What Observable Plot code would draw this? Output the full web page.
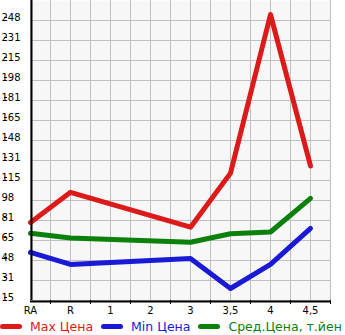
<!DOCTYPE html>
<html>
<head>
<meta charset="utf-8">
<script src="https://cdn.jsdelivr.net/npm/d3@7"></script>
<script src="https://cdn.jsdelivr.net/npm/@observablehq/plot@0.6"></script>
<style>
  html, body { margin: 0; padding: 0; background: #fff; }
  #chart svg { display: block; }
  .legend { display: flex; align-items: center; height: 17px; font: 12.5px "DejaVu Sans", sans-serif; white-space: nowrap; }
  .sw { display: inline-block; width: 22px; height: 5px; border-radius: 3px; margin-right: 8px; }
  .item { display: flex; align-items: center; margin-right: 8px; }
</style>
</head>
<body>
<div id="chart"></div>
<script>
const categories = ["RA", "R", "1", "2", "3", "3,5", "4", "4,5"];
const maxPrice = [80, 105, null, null, 76, 121, 253, 127];
const minPrice = [55, 45, null, null, 50, 25, 45, 75];
const avgPrice = [71, 67, null, null, 63.5, 70.5, 72, 100];
const yTickLabels = ["15", "31", "48", "65", "81", "98", "115", "131", "148", "165", "181", "198", "215", "231", "248"];
const seriesNames = ["Max Цена", "Min Цена", "Сред.Цена, т.йен"];
const seriesColors = ["#dd1a1a", "#1a1ad6", "#0b800b"];

const yStep = (248 - 15) / 14;
const yTicks = yTickLabels.map((_, i) => 15 + i * yStep);
const yMax = 15 + yStep * 15;

const rows = [];
[maxPrice, minPrice, avgPrice].forEach((arr, s) => {
  arr.forEach((v, i) => { if (v != null) rows.push({ i, v, s: seriesNames[s] }); });
});

const xGrid = d3.range(0, 16).map(k => k / 2);
const xMid = d3.range(0, 8).map(k => k + 0.5);

const chart = Plot.plot({
  width: 345,
  height: 318,
  marginTop: 0,
  marginBottom: 18,
  marginLeft: 30,
  marginRight: 15,
  x: { type: "linear", domain: [0, 7.5], range: [30, 330], label: null },
  y: { type: "linear", domain: [15, yMax], range: [300, 0], label: null },
  color: { domain: seriesNames, range: seriesColors },
  style: { fontFamily: "DejaVu Sans, sans-serif", fontSize: "10px", color: "#000", background: "#fff" },
  marks: [
    Plot.frame({ fill: "#f7f7f7", stroke: null }),
    Plot.gridX(xGrid, { stroke: "#c0c0c0", strokeOpacity: 1, strokeWidth: 1 }),
    Plot.gridY(yTicks, { stroke: "#c0c0c0", strokeOpacity: 1, strokeWidth: 1 }),
    Plot.axisX({ ticks: d3.range(0, 8), tickSize: 0, tickPadding: 6, tickFormat: d => categories[d], fill: "#000", label: null }),
    Plot.axisX({ ticks: xMid, tickSize: 4, tickFormat: () => "", stroke: "#000", strokeOpacity: 1, label: null }),
    Plot.axisY({ ticks: yTicks, tickSize: 3, tickPadding: 3, tickFormat: d => yTickLabels[Math.round((d - 15) / yStep)], textAnchor: "start", dx: -23, dy: -3, fill: "#000", label: null }),
    Plot.line(rows, { x: "i", y: "v", z: "s", stroke: "s", strokeWidth: 5, strokeLinejoin: "round", strokeLinecap: "round" }),
    Plot.ruleX([0], { stroke: "#000", strokeWidth: 2, dx: 1 }),
    Plot.ruleY([15], { stroke: "#000", strokeWidth: 2, dy: 1 })
  ]
});
document.getElementById("chart").appendChild(chart);

const legend = document.createElement("div");
legend.className = "legend";
seriesNames.forEach((name, k) => {
  const item = document.createElement("span");
  item.className = "item";
  const sw = document.createElement("span");
  sw.className = "sw";
  sw.style.background = seriesColors[k];
  const t = document.createElement("span");
  t.textContent = name;
  t.style.color = seriesColors[k];
  item.appendChild(sw);
  item.appendChild(t);
  legend.appendChild(item);
});
document.body.appendChild(legend);
</script>
</body>
</html>
